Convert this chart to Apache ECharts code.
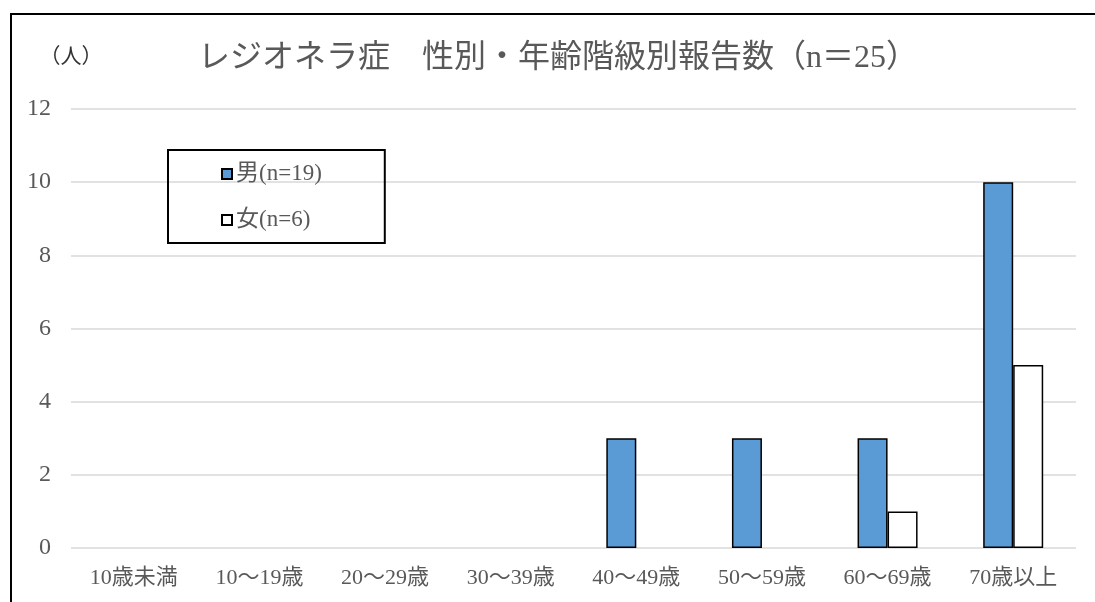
<!DOCTYPE html>
<html>
<head>
<meta charset="utf-8">
<style>
  html, body { margin: 0; padding: 0; background: #ffffff; }
  #chart { width: 1095px; height: 602px; }
</style>
<script src="https://cdn.jsdelivr.net/npm/echarts@6/dist/echarts.min.js"></script>
</head>
<body>
<div id="chart"></div>
<script>
// Age groups on the category axis
const ageGroups = ['10歳未満', '10～19歳', '20～29歳', '30～39歳', '40～49歳', '50～59歳', '60～69歳', '70歳以上'];
// Reported cases by sex
const maleCounts = [0, 0, 0, 0, 3, 3, 3, 10];
const femaleCounts = [0, 0, 0, 0, 0, 0, 1, 5];
const maleName = '男(n=19)';
const femaleName = '女(n=6)';
const chartTitle = 'レジオネラ症　性別・年齢階級別報告数（n＝25）';
const unitLabel = '（人）';
const yTicks = { min: 0, max: 12, interval: 2 };

const FONT = "'Liberation Serif', 'Noto Sans CJK JP', serif";
const TEXT = '#595959';

// Empty groups are left blank instead of drawing a flat outlined bar
const asBars = arr => arr.map(v => (v === 0 ? null : v));

const chart = echarts.init(document.getElementById('chart'), null, { renderer: 'canvas' });

chart.setOption({
  backgroundColor: '#ffffff',
  animation: false,
  textStyle: { fontFamily: FONT, color: TEXT },
  title: {
    text: chartTitle,
    left: 553,
    textAlign: 'center',
    top: 38,
    textStyle: { fontFamily: FONT, fontSize: 32, fontWeight: 'normal', color: TEXT }
  },
  legend: {
    orient: 'vertical',
    left: 168,
    top: 150,
    padding: [12, 63, 11, 53],
    itemGap: 22,
    itemWidth: 10,
    itemHeight: 10,
    itemStyle: { borderColor: '#000000', borderWidth: 2 },
    borderColor: '#000000',
    borderWidth: 2,
    icon: 'rect',
    textStyle: { fontFamily: FONT, fontSize: 23, color: TEXT, lineHeight: 24, padding: [0, 0, 0, -1] },
    data: [maleName, femaleName]
  },
  grid: { left: 71, right: 19, top: 109, bottom: 54, containLabel: false },
  xAxis: {
    type: 'category',
    data: ageGroups,
    axisLine: { show: false },
    axisTick: { show: false },
    axisLabel: { fontFamily: FONT, fontSize: 22, color: TEXT, margin: 19, interval: 0 }
  },
  yAxis: {
    type: 'value',
    min: yTicks.min,
    max: yTicks.max,
    interval: yTicks.interval,
    name: unitLabel,
    nameLocation: 'end',
    nameGap: 52,
    nameTextStyle: { fontFamily: FONT, fontSize: 21, color: '#333333', align: 'center', verticalAlign: 'middle' },
    axisLine: { show: false },
    axisTick: { show: false },
    axisLabel: { fontFamily: FONT, fontSize: 24, color: TEXT, margin: 20 },
    splitLine: { lineStyle: { color: '#d9d9d9', width: 1.5 } }
  },
  series: [
    {
      name: maleName,
      type: 'bar',
      data: asBars(maleCounts),
      barWidth: 30,
      barGap: '0%',
      itemStyle: { color: '#5b9bd5', borderColor: '#000000', borderWidth: 1.5 }
    },
    {
      name: femaleName,
      type: 'bar',
      data: asBars(femaleCounts),
      barWidth: 30,
      barGap: '0%',
      itemStyle: { color: '#ffffff', borderColor: '#000000', borderWidth: 1.5 }
    }
  ],
  graphic: [
    {
      type: 'rect',
      silent: true,
      z: 100,
      shape: { x: 11, y: 14, width: 1200, height: 800 },
      style: { fill: null, stroke: '#000000', lineWidth: 2 }
    }
  ]
});
</script>
</body>
</html>
